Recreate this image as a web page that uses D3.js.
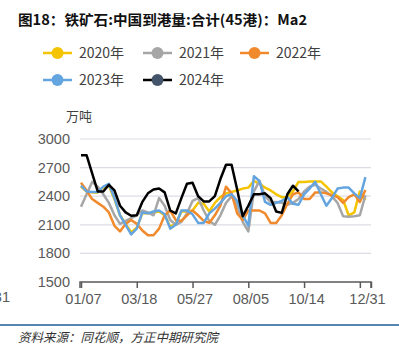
<!DOCTYPE html>
<html><head><meta charset="utf-8">
<script src="https://cdn.jsdelivr.net/npm/d3@7"></script>
<style>body{margin:0;background:#fff}svg{display:block}</style>
</head><body>
<script>
const seriesNames = ["2020年","2021年","2022年","2023年","2024年"];
const lineColors = ["#f5c400","#a6a6a6","#f08a2c","#64a5e0","#000000"];
const dotColors  = ["#f5c400","#a6a6a6","#f08a2c","#64a5e0","#44546a"];
const xTickIdx = [0,10,20,30,40,50,52];
const xTickLabels = ["01/07","03/18","05/27","08/05","10/14","","12/31"];
const yTicks = [1500,1800,2100,2400,2700,3000];

const v2020 = [2500,2450,2440,2440,2490,2510,2370,2200,2110,2020,2070,2220,2220,2230,2240,2200,2080,2110,2240,2240,2250,2330,2320,2240,2330,2390,2430,2445,2460,2480,2490,2560,2530,2490,2460,2420,2390,2390,2450,2550,2550,2555,2555,2555,2500,2440,2400,2360,2200,2230,2450,2360];
const v2021 = [2290,2420,2550,2500,2420,2330,2200,2110,2140,2170,2200,2250,2230,2200,2380,2300,2150,2100,2130,2220,2350,2380,2250,2140,2100,2200,2330,2400,2300,2130,2030,2450,2560,2400,2340,2340,2330,2310,2330,2370,2450,2500,2520,2480,2445,2400,2330,2190,2185,2190,2200,2410];
const v2022 = [2540,2460,2370,2330,2290,2230,2090,2030,2110,2150,2110,2040,1990,1990,2060,2200,2250,2150,2140,2200,2250,2200,2140,2120,2200,2300,2500,2430,2220,2150,2250,2250,2250,2220,2120,2120,2200,2320,2420,2440,2370,2370,2440,2440,2430,2410,2390,2330,2390,2420,2340,2465];
const v2023 = [2510,2450,2445,2445,2500,2530,2380,2200,2100,2000,2060,2230,2220,2240,2250,2210,2060,2100,2250,2250,2210,2120,2120,2220,2270,2330,2400,2420,2350,2200,2090,2610,2560,2340,2310,2330,2350,2390,2320,2310,2420,2480,2550,2420,2300,2380,2480,2490,2490,2430,2380,2600];
const v2024 = [2830,2830,2640,2450,2450,2520,2460,2300,2230,2195,2200,2340,2430,2470,2480,2440,2250,2220,2380,2530,2540,2400,2345,2345,2400,2580,2730,2730,2470,2190,2300,2420,2420,2430,2380,2240,2225,2420,2510,2450];
const allSeries = [v2020,v2021,v2022,v2023,v2024];

const W=399,H=353;
const svg=d3.select("body").append("svg").attr("width",W).attr("height",H);
const font="'Noto Sans CJK SC','Noto Sans',sans-serif";

const x=d3.scaleLinear().domain([0,52]).range([81,371]);
const y=d3.scaleLinear().domain([1500,3000]).range([282,139]);

// title
svg.append("text").attr("x",18).attr("y",25).attr("font-family","'Noto Sans CJK SC',sans-serif")
  .attr("font-size",14).attr("font-weight","bold").attr("fill","#111")
  .attr("textLength",289).attr("lengthAdjust","spacingAndGlyphs")
  .text("图18：铁矿石:中国到港量:合计(45港)：Ma2");

// legend
const legPos=[[43,53],[143,53],[240,53],[43,80],[143,80]];
seriesNames.forEach((n,i)=>{
  const [lx,ly]=legPos[i];
  const g=svg.append("g");
  g.append("line").attr("x1",lx).attr("x2",lx+29).attr("y1",ly).attr("y2",ly)
    .attr("stroke",lineColors[i]).attr("stroke-width",2.5);
  g.append("circle").attr("cx",lx+14.5).attr("cy",ly).attr("r",6).attr("fill",dotColors[i]);
  g.append("text").attr("x",lx+36).attr("y",ly+5).attr("font-family",font).attr("font-size",14)
    .attr("fill","#404040").text(n);
});

svg.append("text").attr("x",66).attr("y",121).attr("font-family",font).attr("font-size",13)
  .attr("fill","#404040").text("万吨");

// grid
svg.append("g").selectAll("line").data(yTicks.filter(d=>d>1500)).join("line")
  .attr("x1",80).attr("x2",371).attr("y1",d=>y(d)).attr("y2",d=>y(d))
  .attr("stroke","#dcdce6").attr("stroke-width",1.2);

// y labels
svg.append("g").selectAll("text").data(yTicks).join("text")
  .attr("x",70).attr("y",d=>y(d)+5).attr("text-anchor","end")
  .attr("font-family","'Liberation Sans',Arial,sans-serif").attr("font-size",14.5).attr("fill","#595959")
  .text(d=>d);

// x axis
const xAxis=d3.axisBottom(x).tickValues(xTickIdx).tickSize(6).tickFormat((d,i)=>xTickLabels[i]);
const ax=svg.append("g").attr("transform",`translate(0,${y(1500)})`).call(xAxis);
ax.select(".domain").attr("stroke","#595959").attr("stroke-width",1.5).attr("d","M80,6V0H371V6");
ax.selectAll(".tick line").attr("stroke","#595959").attr("stroke-width",1.5);
ax.selectAll(".tick text").attr("font-family","'Liberation Sans',Arial,sans-serif").attr("font-size",14.5)
  .attr("fill","#595959").attr("dy","0.9em").attr("dx",(d,i)=>i===6?-4:2);
svg.append("text").attr("x",10).attr("y",302).attr("text-anchor","end")
  .attr("font-family","'Liberation Sans',Arial,sans-serif").attr("font-size",14.5).attr("fill","#595959").text("12/31");

// lines
const line=d3.line().x((d,i)=>x(i)).y(d=>y(d));
allSeries.forEach((s,i)=>{
  svg.append("path").datum(s).attr("d",line).attr("fill","none")
    .attr("stroke",lineColors[i]).attr("stroke-width",2.5).attr("stroke-linejoin","round");
});

// footer
svg.append("line").attr("x1",0).attr("x2",399).attr("y1",325).attr("y2",325)
  .attr("stroke","#1f5c99").attr("stroke-width",1.5);
svg.append("text").attr("x",18).attr("y",342).attr("font-family",font).attr("font-size",12.5)
  .attr("font-style","italic").attr("fill","#333").text("资料来源：同花顺，方正中期研究院");
</script>
</body></html>
